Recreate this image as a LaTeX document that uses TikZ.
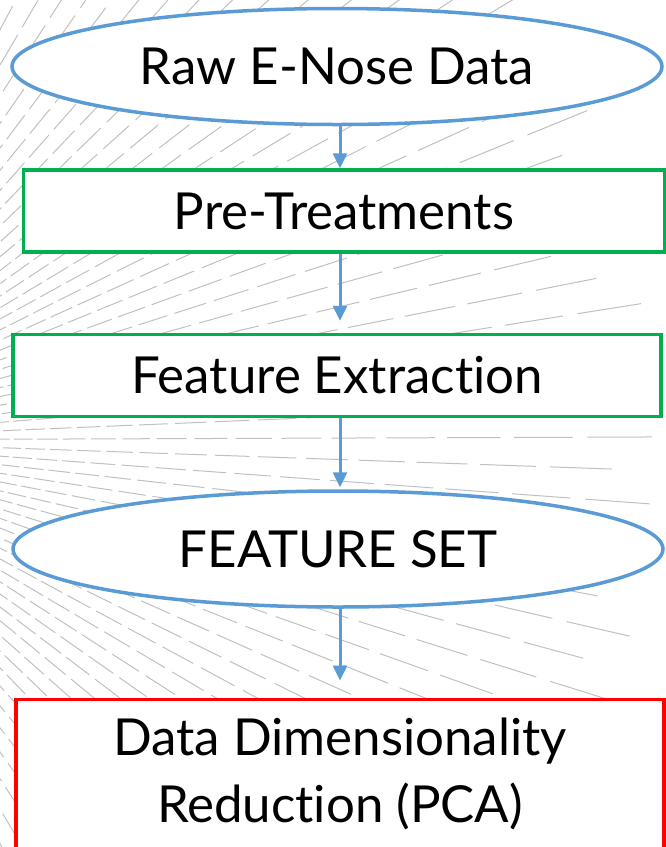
\documentclass[tikz,border=0pt]{standalone}
\usepackage{fontspec}
\setmainfont{Lato}[Ligatures={NoCommon,NoRequired}]
\usetikzlibrary{arrows.meta,shapes.geometric}
\definecolor{flowblue}{HTML}{5B9BD5}
\definecolor{flowgreen}{HTML}{00B050}
\definecolor{bggray}{HTML}{C0C0C0}

\begin{document}
\begin{tikzpicture}[x=1pt,y=-1pt,
  lbl/.style={font=\fontsize{51}{67}\selectfont,fill=white,line width=3.5pt,inner sep=0pt},
  oval/.style={lbl,ellipse,draw=flowblue,minimum width=650pt,minimum height=116pt},
  greenbox/.style={lbl,rectangle,draw=flowgreen,minimum height=82pt},
  flow/.style={flowblue,line width=3pt,-{Triangle[length=15pt,width=14pt]}},
  bgline/.style={bggray,line width=1pt}]
  \useasboundingbox (0,0) rectangle (666,847);
  \clip (0,0) rectangle (666,847);
  % dashed fan behind the chart, dashes grow with the distance
  \foreach \a [count=\i] in {-64,-61.8,...,62} {
    \pgfmathsetmacro\ph{mod(\i,2)==0 ? 1 : 1.05}
    \foreach \k in {0,...,21} {
      \pgfmathsetmacro\ra{120*\ph*1.1^\k}
      \pgfmathsetmacro\rb{\ra*1.08}
      \ifdim\ra pt<830pt
        \draw[bgline,shift={(-220,440)}] (\a:\ra) -- (\a:\rb);
      \fi
    }
  }
  \node[oval] (raw) at (337,66.5) {Raw E-Nose Data};
  \node[greenbox,minimum width=641pt] (pre) at (344,211) {Pre-Treatments};
  \node[greenbox,minimum width=648pt] (feat) at (337,375.5) {Feature Extraction};
  \node[oval] (set) at (338,549) {FEATURE SET};
  \node[lbl,draw=red,anchor=north,minimum width=648pt,align=center,
    text height=123.5pt,text depth=150pt] (pca) at (340,697.5)
    {Data Dimensionality\\Reduction (PCA)};
  \draw[flow] (raw.south -| pca.north) -- (pre.north -| pca.north);
  \draw[flow,shorten >=12pt] (pre.south -| pca.north) -- (feat.north -| pca.north);
  \draw[flow,shorten >=2pt] (feat.south -| pca.north) -- (set.north -| pca.north);
  \draw[flow,shorten >=17pt] (set.south -| pca.north) -- (pca.north);
\end{tikzpicture}
\end{document}
